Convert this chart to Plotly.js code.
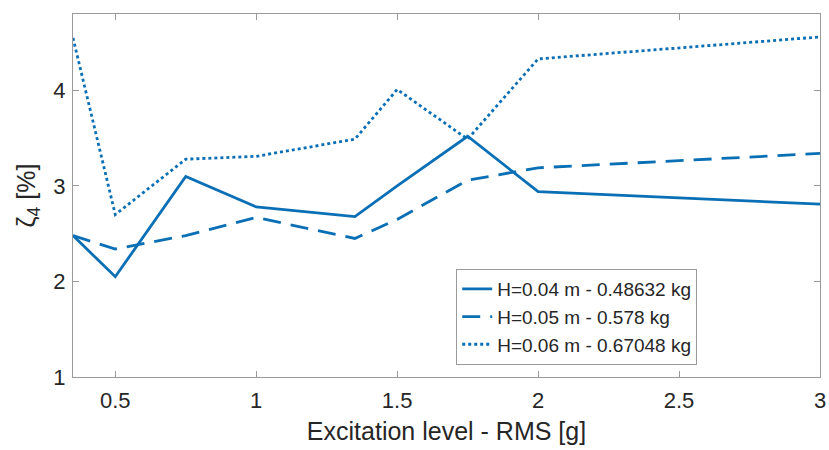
<!DOCTYPE html>
<html>
<head>
<meta charset="utf-8">
<script src="https://cdn.plot.ly/plotly-3.0.1.min.js"></script>
<style>html,body{margin:0;padding:0;background:#fff;}#chart{width:829px;height:450px;}</style>
</head>
<body>
<div id="chart"></div>
<script>
const excitation = [0.35, 0.5, 0.75, 1, 1.35, 1.5, 1.75, 2, 3];
const zetaH004 = [2.48, 2.05, 3.10, 2.78, 2.68, 3.00, 3.52, 2.94, 2.81];
const zetaH005 = [2.48, 2.34, 2.48, 2.67, 2.45, 2.65, 3.06, 3.19, 3.34];
const zetaH006 = [4.55, 2.70, 3.28, 3.31, 3.49, 4.01, 3.49, 4.33, 4.56];
const seriesNames = ['H=0.04 m - 0.48632 kg', 'H=0.05 m - 0.578 kg', 'H=0.06 m - 0.67048 kg'];
const xTicks = [0.5, 1, 1.5, 2, 2.5, 3];
const xTickText = ['0.5', '1', '1.5', '2', '2.5', '3'];
const yTicks = [1, 2, 3, 4];

const color = '#0a6fb5';
const dashes = ['solid', '18px,10px', '3px,3px'];
const ys = [zetaH004, zetaH005, zetaH006];
const traces = ys.map((y, i) => ({
  x: excitation, y: y, type: 'scatter', mode: 'lines', name: seriesNames[i],
  line: {color: color, width: 2.8, dash: dashes[i]}
}));

const FONT = 'Liberation Sans, Arial, sans-serif';
const axisCommon = {
  showline: true, linecolor: '#9a9a9a', linewidth: 1, mirror: 'ticks',
  ticks: 'inside', ticklen: 6, tickcolor: '#9a9a9a', showgrid: false, zeroline: false,
  tickfont: {family: FONT, size: 22, color: '#262626'}
};

const layout = {
  width: 829, height: 450,
  margin: {l: 73, r: 9, t: 14, b: 73},
  paper_bgcolor: '#fff', plot_bgcolor: '#fff',
  showlegend: true,
  xaxis: Object.assign({}, axisCommon, {
    range: [0.35, 3], tickvals: xTicks, ticktext: xTickText, ticklabelstandoff: 4,
    title: {text: 'Excitation level - RMS [g]', standoff: 10,
      font: {family: FONT, size: 25, color: '#262626'}}
  }),
  yaxis: Object.assign({}, axisCommon, {
    range: [1, 4.8], tickvals: yTicks, ticklabelstandoff: 2,
    title: {text: 'ζ<sub>4</sub> [%]', standoff: 10,
      font: {family: FONT, size: 25, color: '#262626'}}
  }),
  legend: {
    x: 0.513, y: 0.2975, xanchor: 'left', yanchor: 'top',
    bgcolor: '#fff', bordercolor: '#9a9a9a', borderwidth: 1,
    font: {family: FONT, size: 19, color: '#262626'},
    tracegroupgap: 0, itemwidth: 30
  }
};

Plotly.newPlot('chart', traces, layout, {displayModeBar: false, staticPlot: true});
</script>
</body>
</html>
